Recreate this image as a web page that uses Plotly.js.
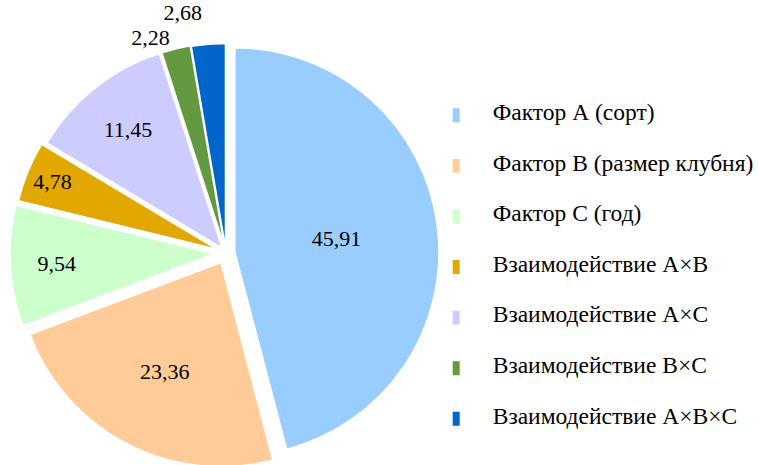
<!DOCTYPE html>
<html>
<head>
<meta charset="utf-8">
<script src="https://cdn.plot.ly/plotly-3.0.1.min.js"></script>
<style>
  html, body { margin: 0; padding: 0; background: #ffffff; overflow: hidden; }
  #chart { width: 759px; height: 506px; }
  #chart .textline { display: none; }
  #chart .legendpie { transform: scale(1.33); }
  #note { position: absolute; left: 745px; top: 450px; font-size: 6px; color: #ffffff; font-family: 'Liberation Serif'; margin: 0; }
</style>
</head>
<body>
<div id="chart"></div>
<pre id="note"></pre>
<script>
const labels = [
  'Фактор А (сорт)',
  'Фактор В (размер клубня)',
  'Фактор С (год)',
  'Взаимодействие А×В',
  'Взаимодействие А×С',
  'Взаимодействие В×С',
  'Взаимодействие А×В×С'
];
const values = [45.91, 23.36, 9.54, 4.78, 11.45, 2.28, 2.68];
const colors = ['#99CCFF', '#FFCC99', '#CCFFCC', '#E3A800', '#CCCCFF', '#639A3F', '#0066CC'];
const pulls = [0.044, 0.053, 0.058, 0.049, 0.032, 0.03, 0.027];
const textPositions = ['inside', 'inside', 'inside', 'inside', 'inside', 'outside', 'outside'];

const FONT = 'Liberation Serif';
const legendLabels = labels.map(l => '<br><span style="font-size:23.5px">' + l + '</span><br>');

const trace = {
  type: 'pie',
  labels: legendLabels,
  values: values,
  sort: false,
  direction: 'clockwise',
  rotation: 0,
  pull: pulls,
  marker: { colors: colors, line: { color: '#ffffff', width: 1.5 } },
  texttemplate: '%{value:.2f}',
  textposition: textPositions,
  insidetextorientation: 'horizontal',
  textfont: { family: FONT, size: 22, color: '#000000' },
  insidetextfont: { family: FONT, size: 22, color: '#000000' },
  outsidetextfont: { family: FONT, size: 22, color: '#000000' },
  hoverinfo: 'value',
  domain: { x: [0.0133, 0.5876], y: [0, 1] }
};

const layout = {
  width: 759,
  height: 506,
  margin: { l: 0, r: 0, t: 0, b: 0 },
  paper_bgcolor: '#ffffff',
  separators: ', ',
  showlegend: true,
  uniformtext: { mode: 'show', minsize: 22 },
  legend: {
    x: 0.602, xanchor: 'left',
    y: 0.832, yanchor: 'top',
    font: { family: FONT, size: 12.2, color: '#000000' },
    bgcolor: 'rgba(0,0,0,0)',
    traceorder: 'normal'
  },
  font: { family: FONT, color: '#000000' }
};

function refreshFonts() {
  const nodes = document.querySelectorAll('#chart text, #chart tspan');
  nodes.forEach(function (n) {
    const ff = getComputedStyle(n).fontFamily;
    n.style.fontFamily = ff;
  });
  document.getElementById('note').textContent = '.';
}

Plotly.newPlot('chart', [trace], layout, { displayModeBar: false, staticPlot: true })
  .then(refreshFonts);
</script>
</body>
</html>
